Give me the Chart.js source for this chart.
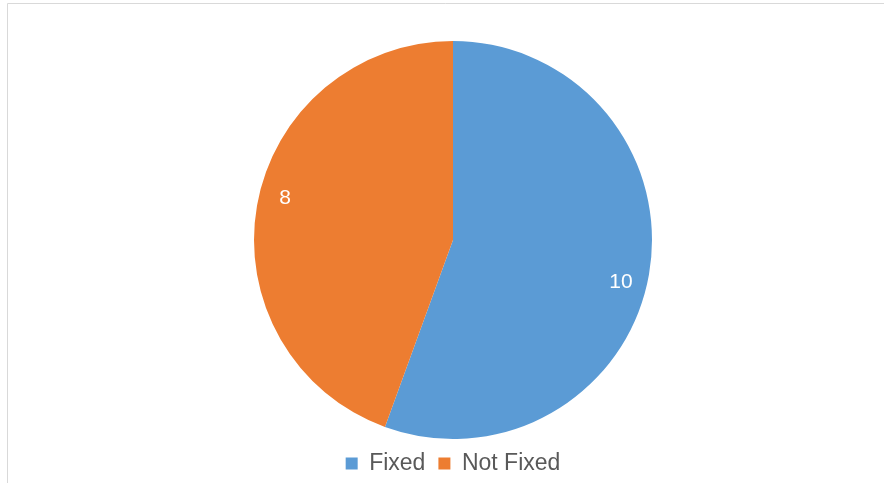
<!DOCTYPE html>
<html>
<head>
<meta charset="utf-8">
<script src="https://cdn.jsdelivr.net/npm/chart.js@4/dist/chart.umd.min.js"></script>
<style>
  html, body { margin: 0; padding: 0; background: #ffffff; }
  #wrap { position: relative; width: 885px; height: 483px; }
</style>
</head>
<body>
<div id="wrap"><canvas id="chart" width="885" height="483"></canvas></div>
<script>
// Ticket status counts
const categories = ['Fixed', 'Not Fixed'];
const counts = [10, 8];
const sliceColors = ['#5B9BD5', '#ED7D31'];

// Thin grey frame along the top and left edges
const framePlugin = {
  id: 'frame',
  beforeDraw(chart) {
    const ctx = chart.ctx;
    ctx.save();
    ctx.strokeStyle = '#d9d9d9';
    ctx.lineWidth = 1;
    ctx.beginPath();
    ctx.moveTo(7.5, 483);
    ctx.lineTo(7.5, 3.5);
    ctx.lineTo(884, 3.5);
    ctx.stroke();
    ctx.restore();
  }
};

// Value labels placed inside each slice, near the rim
const valueLabels = {
  id: 'valueLabels',
  afterDatasetsDraw(chart) {
    const ctx = chart.ctx;
    const meta = chart.getDatasetMeta(0);
    const data = chart.data.datasets[0].data;
    ctx.save();
    ctx.fillStyle = '#ffffff';
    ctx.font = '21px "Liberation Sans", Arial, sans-serif';
    ctx.textAlign = 'center';
    ctx.textBaseline = 'middle';
    meta.data.forEach((arc, i) => {
      const p = arc.getProps(['x', 'y', 'startAngle', 'endAngle', 'outerRadius'], true);
      const mid = (p.startAngle + p.endAngle) / 2 + 4 * Math.PI / 180;
      const r = p.outerRadius * 0.87;
      ctx.fillText(String(data[i]), p.x + Math.cos(mid) * r, p.y + Math.sin(mid) * r);
    });
    ctx.restore();
  }
};

new Chart(document.getElementById('chart'), {
  type: 'pie',
  data: {
    labels: categories,
    datasets: [{
      data: counts,
      backgroundColor: sliceColors,
      borderWidth: 0
    }]
  },
  options: {
    responsive: false,
    devicePixelRatio: 1,
    animation: false,
    layout: { padding: { top: 41, left: 21, right: 0, bottom: -2 } },
    plugins: {
      tooltip: { enabled: false },
      legend: {
        position: 'bottom',
        labels: {
          boxWidth: 12,
          boxHeight: 12,
          padding: 13,
          color: '#595959',
          font: { family: '"Liberation Sans", Arial, sans-serif', size: 23 }
        }
      }
    }
  },
  plugins: [framePlugin, valueLabels]
});
</script>
</body>
</html>
